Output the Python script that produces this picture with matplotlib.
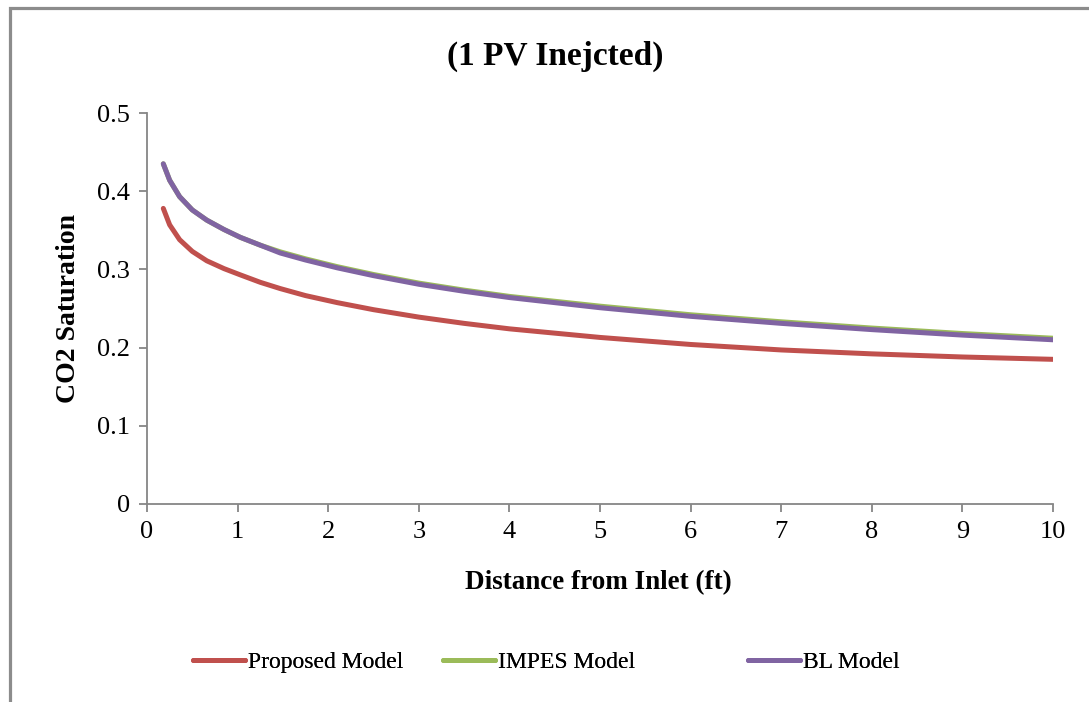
import numpy as np
import matplotlib; matplotlib.use("Agg")
import matplotlib.pyplot as plt
from matplotlib.patches import Rectangle
from matplotlib.lines import Line2D

plt.rcParams["font.family"] = ["Liberation Serif", "DejaVu Serif"]

# distance from inlet (ft) and CO2 saturation
dist = [0.18, 0.25, 0.36, 0.5, 0.66, 0.85, 1.03, 1.25, 1.47, 1.75, 2.1,
        2.5, 3, 3.5, 4, 5, 6, 7, 8, 9, 10]
proposed = [0.378, 0.357, 0.338, 0.323, 0.311, 0.301, 0.293, 0.2835, 0.2755,
            0.2665, 0.2575, 0.2485, 0.239, 0.231, 0.224, 0.213, 0.204, 0.197,
            0.192, 0.188, 0.185]
impes = [0.435, 0.414, 0.393, 0.376, 0.363, 0.351, 0.341, 0.331, 0.3225,
         0.3135, 0.3035, 0.2935, 0.2825, 0.2735, 0.2655, 0.253, 0.242,
         0.233, 0.225, 0.218, 0.212]
bl = [0.435, 0.414, 0.393, 0.376, 0.363, 0.351, 0.341, 0.331, 0.321, 0.312,
      0.302, 0.292, 0.281, 0.272, 0.264, 0.251, 0.240, 0.231, 0.223, 0.216,
      0.210]

SERIES = [("Proposed Model", proposed, "#C0504D"),
          ("IMPES Model", impes, "#9BBB59"),
          ("BL Model", bl, "#8064A2")]
GRAY = "#868686"

fig = plt.figure(figsize=(10.89, 7.02), dpi=100)
ax = fig.add_axes([147/1089, 1-504/702, 906/1089, 391/702])

for name, vals, c in SERIES:
    ax.plot(dist, vals, color=c, lw=3.6, solid_capstyle="round",
            solid_joinstyle="round", label=name)

ax.set_xlim(0, 10); ax.set_ylim(0, 0.5)
ax.set_xticks(range(0, 11))
ax.set_yticks([0, 0.1, 0.2, 0.3, 0.4, 0.5])
ax.set_yticklabels(["0", "0.1", "0.2", "0.3", "0.4", "0.5"])
for s in ["top", "right"]:
    ax.spines[s].set_visible(False)
for s in ["left", "bottom"]:
    ax.spines[s].set_color(GRAY); ax.spines[s].set_linewidth(1.3)
ax.tick_params(direction="out", length=6, width=1.3, color=GRAY,
               labelsize=19, pad=6)

ax.set_xlabel("Distance from Inlet (ft)", fontsize=19.5, fontweight="bold")
ax.set_ylabel("CO2 Saturation", fontsize=20, fontweight="bold")
ax.xaxis.label.set_va("center"); ax.yaxis.label.set_va("center")
ax.xaxis.set_label_coords(0.498, -0.2)
ax.yaxis.set_label_coords(-0.087, 0.5)

fig.text(555/1089, 1-56/702, "(1 PV Inejcted)", fontsize=24, fontweight="bold",
         ha="center", va="center")

# legend entries placed separately, as in the reference
for (name, vals, c), x0 in zip(SERIES, [193, 443, 748]):
    h = Line2D([], [], color=c, lw=3.6, solid_capstyle="round")
    lg = fig.legend([h], [name], loc="center left",
                    bbox_to_anchor=(x0/1089, 1-662/702), frameon=False,
                    fontsize=17, handlelength=2.2, handletextpad=0.12,
                    borderpad=0, borderaxespad=0)
    fig.add_artist(lg)

fig.add_artist(Rectangle((10/1089, -0.1), 1.5, 1.1-8/702, transform=fig.transFigure,
                         fill=False, edgecolor="#8c8c8c", lw=2.3))

fig.savefig("out.png", dpi=100)
